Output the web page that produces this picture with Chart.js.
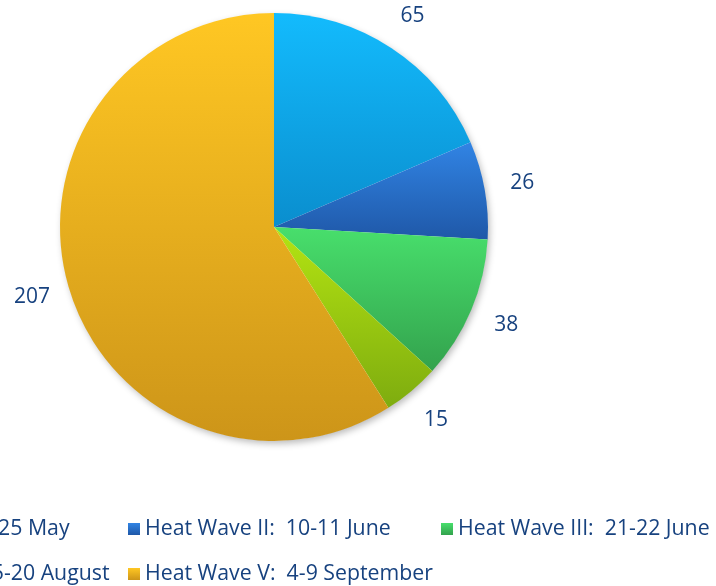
<!DOCTYPE html>
<html>
<head>
<meta charset="utf-8">
<script src="https://cdn.jsdelivr.net/npm/chart.js@4.4.1/dist/chart.umd.min.js"></script>
<style>
  html, body { margin: 0; padding: 0; background: #fff; }
  canvas { display: block; }
</style>
</head>
<body>
<canvas id="pie" width="716" height="586"></canvas>
<script>
const categories = [
    'Heat Wave I:  24-25 May',
    'Heat Wave II:  10-11 June',
    'Heat Wave III:  21-22 June',
    'Heat Wave IV:  15-20 August',
    'Heat Wave V:  4-9 September'
];
const values = [65, 26, 38, 15, 207];

// top / bottom of each slice's vertical gradient
const topColors = ['#13BBFD', '#3184E4', '#48DF6C', '#B4E412', '#FFC723'];
const bottomColors = ['#0A8ECE', '#1F58A8', '#33A24D', '#7EAC0F', '#CD9519'];
const textColor = '#17427F';
const fontFamily = '"Open Sans", "Noto Sans", sans-serif';

const ctx = document.getElementById('pie').getContext('2d');

// white disc with a soft shadow behind the pie, then per-slice gradients
const sliceGradients = {
    id: 'sliceGradients',
    beforeDatasetsDraw(chart) {
        const c = chart.ctx;
        const arcs = chart.getDatasetMeta(0).data;
        if (!arcs.length) return;
        const p0 = arcs[0].getProps(['x', 'y', 'outerRadius']);
        c.save();
        c.shadowColor = 'rgba(0,0,0,0.28)';
        c.shadowBlur = 7;
        c.shadowOffsetX = 2;
        c.shadowOffsetY = 3;
        c.beginPath();
        c.arc(p0.x, p0.y, p0.outerRadius - 0.5, 0, Math.PI * 2);
        c.fillStyle = '#ffffff';
        c.fill();
        c.restore();

        arcs.forEach((arc, i) => {
            const {x, y, startAngle, endAngle, outerRadius: r} =
                arc.getProps(['x', 'y', 'startAngle', 'endAngle', 'outerRadius']);
            const ys = [y, y + r * Math.sin(startAngle), y + r * Math.sin(endAngle)];
            const contains = a => {
                let t = a;
                while (t < startAngle - 1e-6) t += Math.PI * 2;
                return t <= endAngle + 1e-6;
            };
            if (contains(-Math.PI / 2)) ys.push(y - r);
            if (contains(Math.PI / 2)) ys.push(y + r);
            const g = c.createLinearGradient(0, Math.min(...ys), 0, Math.max(...ys));
            g.addColorStop(0, topColors[i]);
            g.addColorStop(1, bottomColors[i]);
            arc.options.backgroundColor = g;
        });
    }
};

// value labels outside each slice
const outsideLabels = {
    id: 'outsideLabels',
    afterDatasetsDraw(chart) {
        const c = chart.ctx;
        const ds = chart.data.datasets[0];
        c.save();
        c.font = '21px ' + fontFamily;
        c.fillStyle = textColor;
        c.textAlign = 'center';
        c.textBaseline = 'middle';
        chart.getDatasetMeta(0).data.forEach((arc, i) => {
            const {x, y, startAngle, endAngle, outerRadius} =
                arc.getProps(['x', 'y', 'startAngle', 'endAngle', 'outerRadius']);
            const mid = (startAngle + endAngle) / 2;
            const d = outerRadius + 38;
            c.fillText(String(ds.data[i]), x + d * Math.cos(mid), y + d * Math.sin(mid));
        });
        c.restore();
    }
};

// grid legend under the pie (first column runs off the left edge)
const gridLegend = {
    id: 'gridLegend',
    afterDraw(chart) {
        const c = chart.ctx;
        const colX = [-185, 128, 441];
        const rowY = [529, 574];
        c.save();
        c.font = '21.3px ' + fontFamily;
        c.textBaseline = 'middle';
        c.textAlign = 'left';
        chart.data.labels.forEach((label, i) => {
            const x = colX[i % 3];
            const y = rowY[Math.floor(i / 3)];
            const g = c.createLinearGradient(0, y - 6, 0, y + 6);
            g.addColorStop(0, topColors[i]);
            g.addColorStop(1, bottomColors[i]);
            c.fillStyle = g;
            c.fillRect(x, y - 6, 12, 12);
            c.fillStyle = textColor;
            c.fillText(label, x + 17, y);
        });
        c.restore();
    }
};

new Chart(ctx, {
    type: 'pie',
    data: {
        labels: categories,
        datasets: [{
            data: values,
            backgroundColor: topColors,
            borderWidth: 0
        }]
    },
    options: {
        responsive: false,
        animation: false,
        layout: {
            padding: { top: 13, bottom: 145, left: 60, right: 228 }
        },
        plugins: {
            legend: { display: false },
            tooltip: { enabled: false }
        }
    },
    plugins: [sliceGradients, outsideLabels, gridLegend]
});
</script>
</body>
</html>
